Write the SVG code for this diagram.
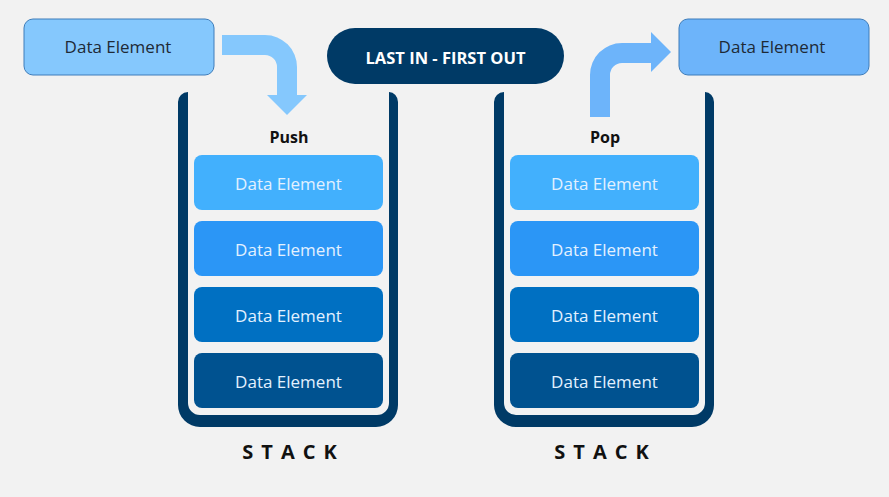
<svg xmlns="http://www.w3.org/2000/svg" width="889" height="497" viewBox="0 0 889 497">
<style>
.lbl{font-family:"Open Sans","Liberation Sans",sans-serif;font-size:17px;text-anchor:middle;dominant-baseline:central}
.dk{fill:#1e2a36}
.wt{fill:#e3f1ff}
.bold{font-family:"Open Sans","Liberation Sans",sans-serif;font-weight:bold;text-anchor:middle;dominant-baseline:central}
.wall{fill:#003a66}
.e1{fill:#42b0fd}.e2{fill:#2b96f6}.e3{fill:#0070c2}.e4{fill:#005290}
</style>
<rect width="889" height="497" fill="#f2f2f2"/>
<g id="connectors">
<path id="push-arrow" d="M222,35 H265 A32,32 0 0 1 297,67 V95 H307 L287,115 L267,95 H277 V67 A12,12 0 0 0 265,55 H222 Z" fill="#85c8fd"/>
<path id="pop-arrow" d="M590,117 V75 A32,32 0 0 1 622,43 H651 V32 L671,52 L651,72 V63 H622 A12,12 0 0 0 610,75 V117 Z" fill="#6db4fa"/>
</g>
<g id="src">
<rect x="24" y="19" width="190" height="56" rx="9" fill="#85c8fd" stroke="#3f7dba" stroke-width="1"/>
<text class="lbl dk" x="118" y="46">Data Element</text>
</g>
<g id="dst">
<rect x="679" y="19" width="190" height="56" rx="9" fill="#6db4fa" stroke="#3f7dba" stroke-width="1"/>
<text class="lbl dk" x="772" y="46">Data Element</text>
</g>
<g id="lifo">
<rect x="327" y="28" width="237" height="56" rx="28" fill="#003a66"/>
<text class="bold" x="445.5" y="57" font-size="16.5" fill="#ffffff">LAST IN - FIRST OUT</text>
</g>
<g id="stack-push">
<path class="wall" d="M178,102 A10,10 0 0 1 188,92 V403 A12,12 0 0 0 200,415 H377 A12,12 0 0 0 389,403 V92 A9,10 0 0 1 398,102 V405 A22,22 0 0 1 376,427 H200 A22,22 0 0 1 178,405 Z"/>
<text class="bold" x="289" y="137" font-size="16" fill="#111">Push</text>
<rect class="e1" x="194" y="155" width="189" height="55" rx="8"/>
<text class="lbl wt" x="288.5" y="183">Data Element</text>
<rect class="e2" x="194" y="221" width="189" height="55" rx="8"/>
<text class="lbl wt" x="288.5" y="249">Data Element</text>
<rect class="e3" x="194" y="287" width="189" height="55" rx="8"/>
<text class="lbl wt" x="288.5" y="315">Data Element</text>
<rect class="e4" x="194" y="353" width="189" height="55" rx="8"/>
<text class="lbl wt" x="288.5" y="381">Data Element</text>
<text class="bold" x="293.5" y="451" font-size="20" letter-spacing="8" fill="#111">STACK</text>
</g>
<g id="stack-pop" transform="translate(316,0)">
<path class="wall" d="M178,102 A10,10 0 0 1 188,92 V403 A12,12 0 0 0 200,415 H377 A12,12 0 0 0 389,403 V92 A9,10 0 0 1 398,102 V405 A22,22 0 0 1 376,427 H200 A22,22 0 0 1 178,405 Z"/>
<text class="bold" x="289" y="137" font-size="16" fill="#111">Pop</text>
<rect class="e1" x="194" y="155" width="189" height="55" rx="8"/>
<text class="lbl wt" x="288.5" y="183">Data Element</text>
<rect class="e2" x="194" y="221" width="189" height="55" rx="8"/>
<text class="lbl wt" x="288.5" y="249">Data Element</text>
<rect class="e3" x="194" y="287" width="189" height="55" rx="8"/>
<text class="lbl wt" x="288.5" y="315">Data Element</text>
<rect class="e4" x="194" y="353" width="189" height="55" rx="8"/>
<text class="lbl wt" x="288.5" y="381">Data Element</text>
<text class="bold" x="289.5" y="451" font-size="20" letter-spacing="8" fill="#111">STACK</text>
</g>
</svg>
